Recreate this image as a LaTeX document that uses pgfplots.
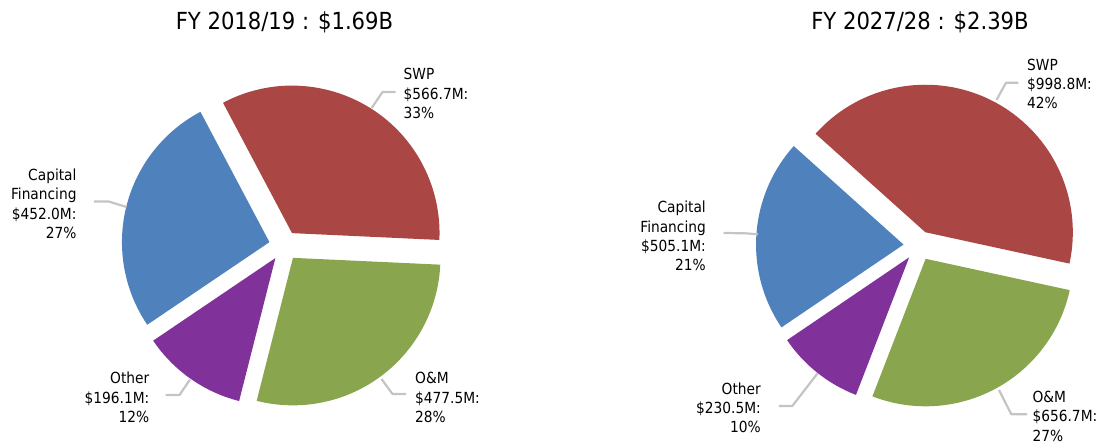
\documentclass[border=0pt]{standalone}
\usepackage{pgfplots}
\pgfplotsset{compat=1.18}
\usepackage{pgfplotstable}
\usepackage{fontspec}
\setmainfont{DejaVu Sans Condensed}
\usetikzlibrary{calc}

\definecolor{cSWP}{HTML}{AA4643}
\definecolor{cOM}{HTML}{89A54E}
\definecolor{cOther}{HTML}{80329A}
\definecolor{cCap}{HTML}{4F81BD}
\definecolor{cLead}{HTML}{C4C4C4}

% slices in clockwise order
\pgfplotstableread{
value colour
566.7 cSWP
477.5 cOM
196.1 cOther
452.0 cCap
}\fyA
\pgfplotstableread{
value colour
998.8 cSWP
656.7 cOM
230.5 cOther
505.1 cCap
}\fyB

% #1 table, #2 prefix, #3 angle of first edge
\newcommand\pieangles[3]{%
  \pgfplotstablegetrowsof{#1}%
  \pgfmathtruncatemacro\lastrow{\pgfplotsretval-1}%
  \gdef\pietot{0}%
  \foreach \i in {0,...,\lastrow}{%
    \pgfplotstablegetelem{\i}{value}\of#1%
    \pgfmathsetmacro\tmp{\pietot+\pgfplotsretval}%
    \xdef\pietot{\tmp}}%
  \xdef\piecur{#3}%
  \foreach \i in {0,...,\lastrow}{%
    \pgfplotstablegetelem{\i}{value}\of#1%
    \pgfmathsetmacro\tmp{\piecur-360*(\pgfplotsretval/\pietot)}%
    \expandafter\xdef\csname #2a\i\endcsname{\piecur}%
    \expandafter\xdef\csname #2b\i\endcsname{\tmp}%
    \pgfplotstablegetelem{\i}{colour}\of#1%
    \expandafter\xdef\csname #2c\i\endcsname{\pgfplotsretval}%
    \xdef\piecur{\tmp}}%
}
\pieangles{\fyA}{pA}{117.9}
\pieangles{\fyB}{pB}{138.1}

% #1 prefix, #2 cx, #3 cy, #4 radius, #5 explode
\newcommand\drawpie[5]{%
  \foreach \k in {0,...,3}{%
    \edef\temp{\noexpand\fill[\csname #1c\k\endcsname]
      (axis cs:#2,#3) ++({(\csname #1a\k\endcsname+\csname #1b\k\endcsname)/2}:#5pt)
      -- ++(\csname #1a\k\endcsname:#4pt)
      arc[start angle=\csname #1a\k\endcsname, end angle=\csname #1b\k\endcsname, radius=#4pt]
      -- cycle;}%
    \temp}%
}

\newcommand\lblfont{\fontsize{15.3}{19.3}\selectfont}
\newcommand\ttlfont{\fontsize{23.5}{28}\selectfont}

\begin{document}
\begin{tikzpicture}
\begin{axis}[
    at={(0,0)}, anchor=south west,
    width=1099pt, height=444pt, scale only axis,
    xmin=0, xmax=1099, ymin=0, ymax=444,
    hide axis, clip=false,
]
\drawpie{pA}{284}{198.2}{147.5}{15}
\drawpie{pB}{918.5}{198.4}{147.5}{15}

% titles
\node[anchor=base, font=\ttlfont] at (axis cs:284.5,414.3) {FY 2018/19 : \$1.69B};
\node[anchor=base, font=\ttlfont] at (axis cs:920,414.3) {FY 2027/28 : \$2.39B};

% leader lines
\begin{scope}[cLead, line width=2.2pt, line join=round]
\draw (axis cs:371.7,336) -- (axis cs:382.5,352) -- (axis cs:395.5,352);
\draw (axis cs:93.8,242.5) -- (axis cs:108.6,242.5) -- (axis cs:126.5,237);
\draw (axis cs:165.5,49) -- (axis cs:179.5,49) -- (axis cs:190,64.5);
\draw (axis cs:381.5,65) -- (axis cs:392.5,50) -- (axis cs:406,50);
\draw (axis cs:996.5,344) -- (axis cs:1006,361.3) -- (axis cs:1018.3,361.3);
\draw (axis cs:723.6,211) -- (axis cs:745.4,210.7) -- (axis cs:757.7,209.7);
\draw (axis cs:778.9,38) -- (axis cs:792.3,38) -- (axis cs:817.6,70.7);
\draw (axis cs:999,54) -- (axis cs:1011.3,29.7) -- (axis cs:1027,29.7);
\end{scope}

% data labels
\begin{scope}[every node/.style={font=\lblfont, inner sep=0pt, text=black}]
\node[anchor=north west, align=left] at (axis cs:403.5,375.8) {SWP\\\$566.7M:\\33\%};
\node[anchor=north east, align=right] at (axis cs:76.7,275.3) {Capital\\Financing\\\$452.0M:\\27\%};
\node[anchor=north east, align=right] at (axis cs:149.5,72.1) {Other\\\$196.1M:\\12\%};
\node[anchor=north west, align=left] at (axis cs:415,71.8) {O\&M\\\$477.5M:\\28\%};
\node[anchor=north west, align=left] at (axis cs:1027,385.3) {SWP\\\$998.8M:\\42\%};
\node[anchor=north east, align=right] at (axis cs:706,243.1) {Capital\\Financing\\\$505.1M:\\21\%};
\node[anchor=north east, align=right] at (axis cs:761,61.5) {Other\\\$230.5M:\\10\%};
\node[anchor=north west, align=left] at (axis cs:1032.4,53.1) {O\&M\\\$656.7M:\\27\%};
\end{scope}
\end{axis}
\pgfresetboundingbox
\path[use as bounding box] (0,0) rectangle (1099pt,444pt);
\end{tikzpicture}
\end{document}
